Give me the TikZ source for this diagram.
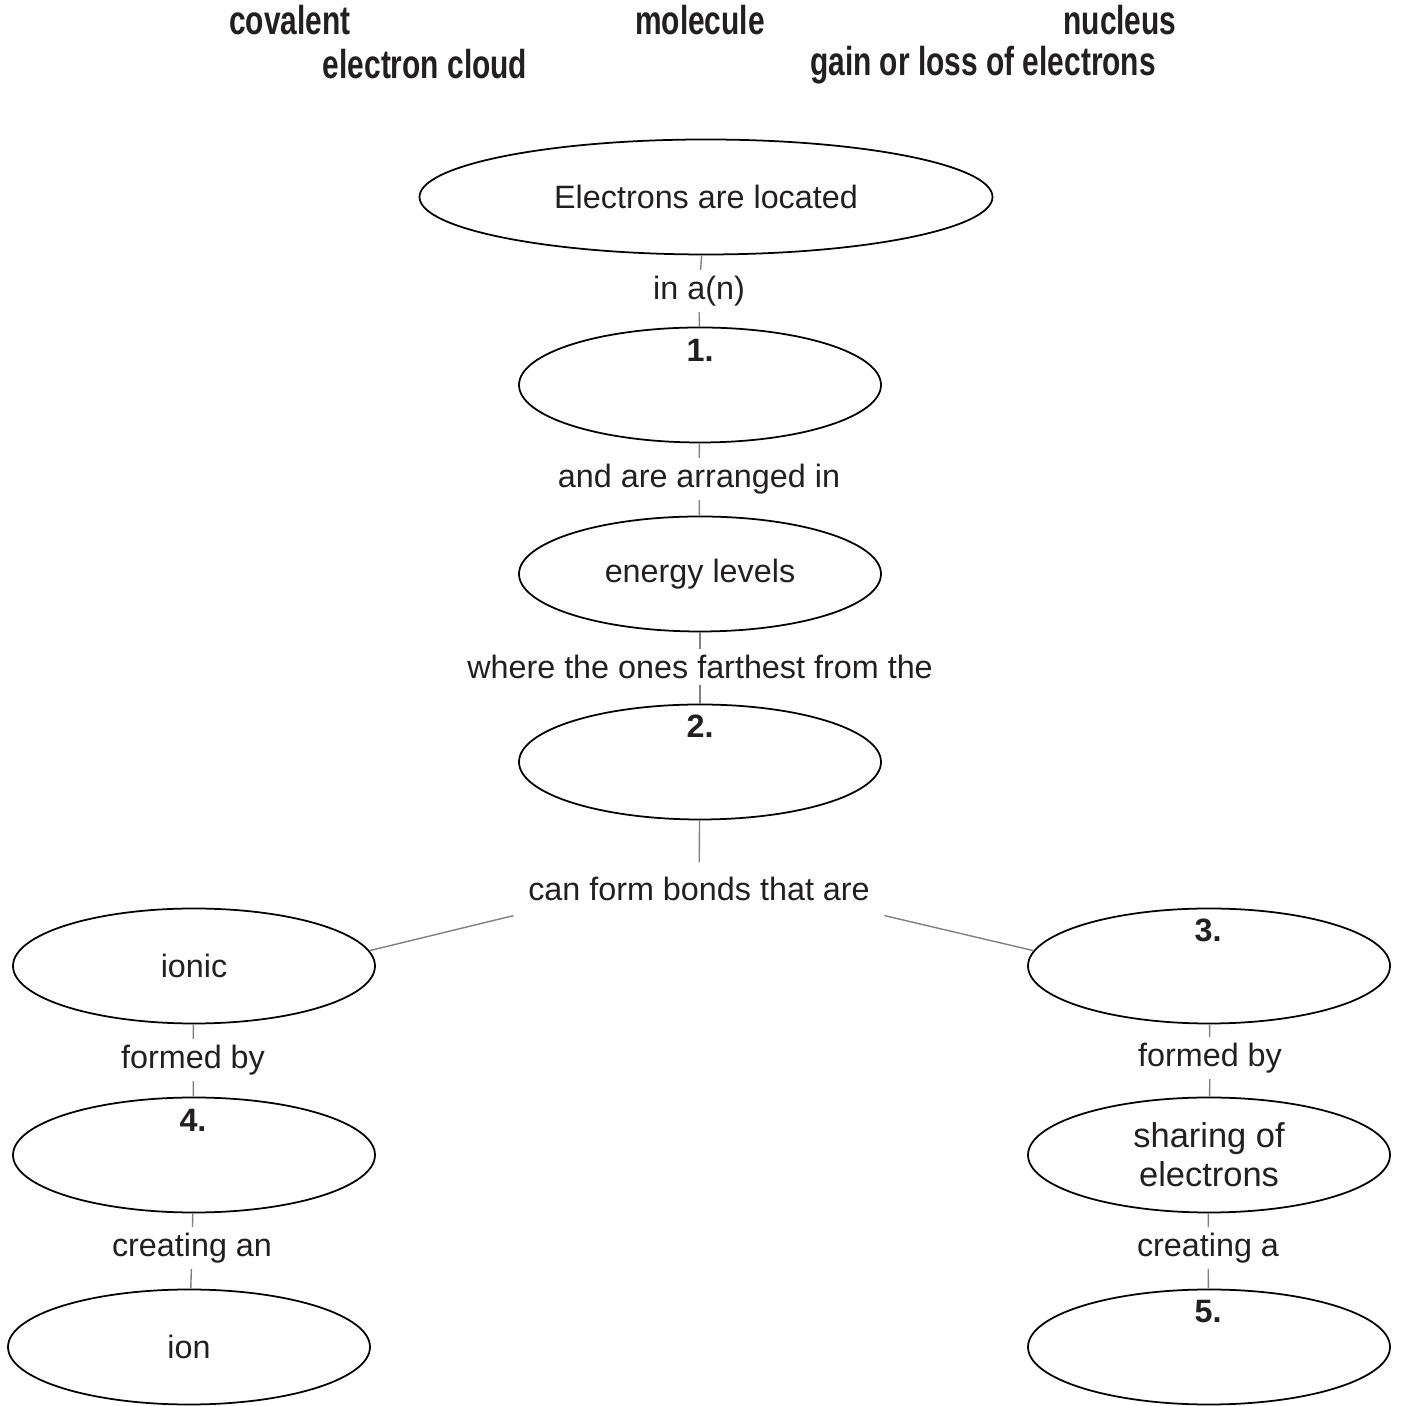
\documentclass[tikz,border=0pt]{standalone}
\usepackage{fontspec}
\setmainfont{Liberation Sans}
\newfontfamily\bankfont[FakeStretch=0.74]{Liberation Sans}
\usetikzlibrary{shapes}
\definecolor{ink}{HTML}{231F20}
\tikzstyle{ov}=[ellipse,draw=black,line width=.5pt,minimum width=3.62cm,minimum height=1.15cm,inner sep=0pt,align=center,text=ink,font=\fontsize{9.2}{11}\selectfont]
\tikzstyle{lnk}=[inner sep=1.5pt,text=ink,font=\fontsize{9.2}{11}\selectfont]
\tikzstyle{num}=[inner sep=0pt,text=ink,font=\fontsize{9.2}{11}\selectfont\bfseries]
\tikzstyle{bank}=[inner sep=0pt,text=ink,font=\bankfont\fontsize{11.5}{13}\selectfont\bfseries]
\tikzstyle{cn}=[draw=gray,line width=.4pt]

\begin{document}
\begin{tikzpicture}
\useasboundingbox (0,0) rectangle (14,14.06);
% word bank
\node[bank] (wcov) at (2.90,13.86) {covalent};
\node[bank] (wmol) at (7.00,13.86) {molecule};
\node[bank] (wnuc) at (11.20,13.86) {nucleus};
\node[bank] (wcloud) at (4.25,13.42) {electron cloud};
\node[bank] (wgain) at (9.83,13.41) {gain or loss of electrons};
% ellipses
\node[ov,minimum width=5.73cm] (eloc) at (7.06,12.09) {Electrons are located};
\node[ov] (e1) at (7.00,10.21) {};
\node[ov] (elev) at (7.00,8.32) {energy levels};
\node[ov] (e2) at (7.00,6.44) {};
\node[ov] (eionic) at (1.94,4.40) {ionic};
\node[ov] (e3) at (12.09,4.40) {};
\node[ov] (e4) at (1.94,2.51) {};
\node[ov,font=\fontsize{9.8}{11.2}\selectfont] (eshare) at (12.09,2.51) {sharing of\\electrons};
\node[ov] (eion) at (1.89,0.59) {ion};
\node[ov] (e5) at (12.09,0.59) {};
% numbers
\node[num] (n1) at (7.00,10.56) {1.};
\node[num] (n2) at (7.00,6.80) {2.};
\node[num] (n3) at (12.08,4.76) {3.};
\node[num] (n4) at (1.93,2.86) {4.};
\node[num] (n5) at (12.08,0.94) {5.};
% linking words
\node[lnk] (lin) at (6.99,11.15) {in a(n)};
\node[lnk] (larr) at (6.99,9.27) {and are arranged in};
\node[lnk] (lwhere) at (7.00,7.39) {where the ones farthest from the};
\node[lnk,inner sep=4pt] (lbond) at (6.99,5.17) {can form bonds that are};
\node[lnk] (lfl) at (1.93,3.46) {formed by};
\node[lnk] (lfr) at (12.10,3.48) {formed by};
\node[lnk] (lcl) at (1.92,1.58) {creating an};
\node[lnk] (lcr) at (12.08,1.58) {creating a};
% connectors
\foreach \a/\b in {eloc/lin,lin/e1,e1/larr,larr/elev,elev/lwhere,lwhere/e2,e2/lbond,
  eionic/lfl,lfl/e4,e4/lcl,lcl/eion,e3/lfr,lfr/eshare,eshare/lcr,lcr/e5}
  \draw[cn] (\a) -- (\b);
\draw[cn] (lbond.south west) -- (eionic.5);
\draw[cn] (lbond.south east) -- (e3.175);
\end{tikzpicture}
\end{document}
